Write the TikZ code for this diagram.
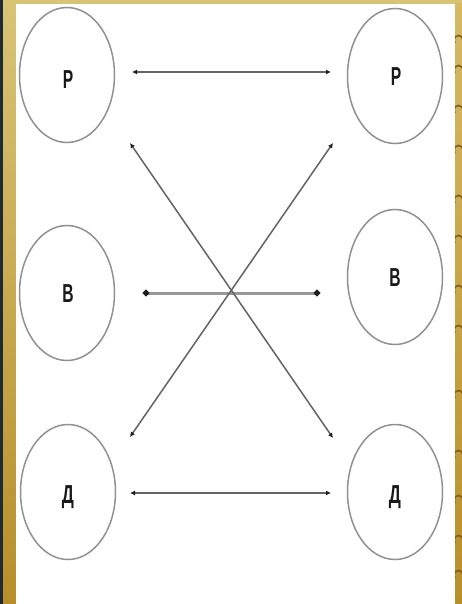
\documentclass[tikz,border=0pt]{standalone}
\usepackage{fontspec}
\usepackage{graphicx}
\setmainfont{Liberation Sans}
\usetikzlibrary{shapes.geometric,arrows.meta,calc}
\definecolor{goldL}{RGB}{216,196,118}
\definecolor{goldD}{RGB}{184,142,42}
\definecolor{goldR}{RGB}{212,186,100}
\definecolor{swirl}{RGB}{125,92,30}
\definecolor{edge}{RGB}{28,44,50}
\definecolor{circ}{RGB}{145,145,145}
\definecolor{lin}{RGB}{100,100,100}
\definecolor{tipc}{RGB}{30,30,30}
\tikzset{
  oval/.style={ellipse,draw=circ,line width=1.5pt,minimum width=95pt,minimum height=135pt,inner sep=0pt},
  letter/.style={font=\bfseries\fontsize{26}{26}\selectfont,text=black!90,inner sep=0pt},
  arr/.style={draw=lin,line width=1.5pt,{Latex[length=5pt,width=5pt,color=tipc]}-{Latex[length=5pt,width=5pt,color=tipc]}},
  barr/.style={draw=black!40,line width=3pt,{Circle[length=6pt,color=tipc]}-{Circle[length=6pt,color=tipc]}}
}
\begin{document}
\begin{tikzpicture}[x=1pt,y=-1pt]
\useasboundingbox (0,0) rectangle (462,604);
% frame
\fill[white] (0,0) rectangle (462,604);
\shade[top color=goldL,bottom color=goldD] (0,0) rectangle (16,604);
\fill[edge] (0,0) rectangle (2.5,604);
\fill[goldL] (2.5,0) rectangle (462,4);
\shade[top color=goldR,bottom color=goldD] (455,4) rectangle (462,604);
\foreach \yy in {40,70,110,150,200,240,290,330,395,455,500,540,575}{
  \draw[swirl,line width=1.6pt] (463,\yy) arc[start angle=0,end angle=220,radius=4.5pt];
}
\fill[white] (16,4) rectangle (455,604);
% ovals
\node[oval] (pl) at (67,75) {};
\node[oval] (pr) at (395,76) {};
\node[oval] (bl) at (67,293) {};
\node[oval] (br) at (395,277) {};
\node[oval] (dl) at (68,492) {};
\node[oval] (dr) at (395,492) {};
% letters
\node[letter] (tpl) at (68,80) {\scalebox{0.6}[1]{Р}};
\node[letter] (tpr) at (396,77) {\scalebox{0.6}[1]{Р}};
\node[letter] (tbl) at (68,294) {\scalebox{0.6}[1]{В}};
\node[letter] (tbr) at (395,278) {\scalebox{0.6}[1]{В}};
\node[letter] (tdl) at (68,497) {\scalebox{0.65}[1]{Д}};
\node[letter] (tdr) at (395,497) {\scalebox{0.65}[1]{Д}};
% connectors
\draw[arr] ($(pl)+(65,-3)$) -- ($(pr)+(-64,-4)$);
\draw[barr] ($(bl)+(76,0)$) -- ($(br)+(-75,16)$);
\draw[arr] ($(dl)+(62,1)$) -- ($(dr)+(-64,1)$);
\draw[arr] ($(pl)+(63,68)$) -- ($(dr)+(-62,-54)$);
\draw[arr] ($(pr)+(-62,67)$) -- ($(dl)+(62,-55)$);
\end{tikzpicture}
\end{document}
